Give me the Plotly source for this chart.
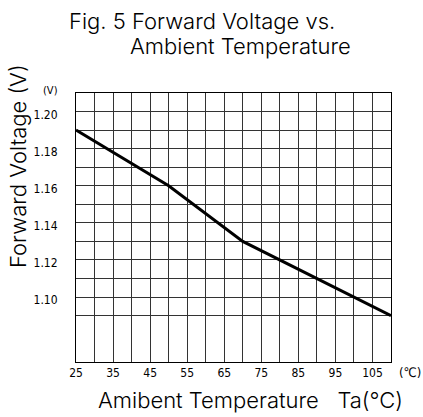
import plotly.graph_objects as go

# curve
temp = [25, 50, 70, 110]
volt = [1.19, 1.16, 1.13, 1.09]

x_ticks = list(range(25, 115, 5))
x_text = [str(t) if (t - 25) % 10 == 0 and t < 110 else '' for t in x_ticks]
y_ticks = [1.09, 1.10, 1.11, 1.12, 1.13, 1.14, 1.15, 1.16, 1.17, 1.18, 1.19, 1.20]
y_text = ['%.2f' % v if round(v * 100) % 2 == 0 else '' for v in y_ticks]

stroke_font = 'Inter, Liberation Mono, monospace'
narrow_font = 'Liberation Sans Narrow, DejaVu Sans Condensed, Arial Narrow, sans-serif'
grid_col = '#333333'

fig = go.Figure()
fig.add_trace(go.Scatter(x=temp, y=volt, mode='lines',
                         line=dict(color='black', width=3),
                         showlegend=False, hoverinfo='skip'))

# plot area 76..391 x 93..362 px
L, R, T, B = 76, 391, 93, 362
W, H = 423, 417


def px(x):
    return (x - L) / (R - L)


def py(y):
    return (B - y) / (B - T)


fig.update_layout(
    width=W, height=H,
    margin=dict(l=L, r=W - R, t=T, b=H - B),
    paper_bgcolor='white', plot_bgcolor='white',
    xaxis=dict(range=[25, 110], tickvals=x_ticks, ticktext=x_text,
               showgrid=True, gridcolor=grid_col, gridwidth=1,
               showline=True, linecolor='black', linewidth=1, mirror=True,
               zeroline=False, ticks='', ticklabelstandoff=0,
               tickfont=dict(family=narrow_font, size=12, color='black')),
    yaxis=dict(range=[1.065, 1.21], tickvals=y_ticks, ticktext=y_text,
               showgrid=True, gridcolor=grid_col, gridwidth=1,
               showline=True, linecolor='black', linewidth=1, mirror=True,
               zeroline=False, ticks='', ticklabelstandoff=15,
               ticklabelshift=3,
               tickfont=dict(family=narrow_font, size=12, color='black')),
)

notes = [
    ('Fig. 5 Forward Voltage vs.', 202, 21, 22, stroke_font, 0),
    ('Ambient Temperature', 240, 46, 22, stroke_font, 0),
    ('Amibent Temperature   Ta(°C)', 250, 400, 22, stroke_font, 0),
    ('Forward Voltage (V)', 18, 166, 22, stroke_font, -90),
    ('(V)', 50, 90, 11, narrow_font, 0),
    ('(℃)', 410, 372, 13, narrow_font, 0),
]
for text, x, y, size, fam, ang in notes:
    fig.add_annotation(text=text, x=px(x), y=py(y), xref='paper', yref='paper',
                       xanchor='center', yanchor='middle', showarrow=False,
                       textangle=ang,
                       font=dict(family=fam, size=size, color='black',
                                 weight=300))

fig.write_html("out.html", config={'displayModeBar': False},
               post_script="document.body.style.margin='0';")
